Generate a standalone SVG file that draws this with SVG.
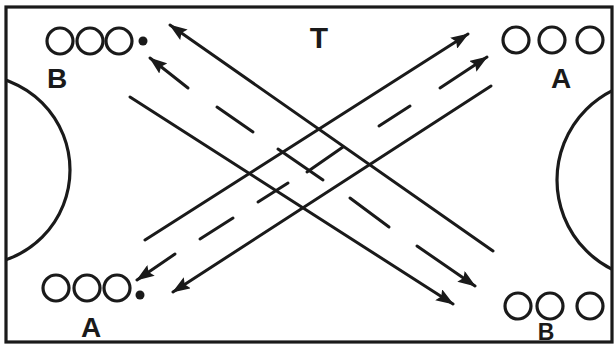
<svg xmlns="http://www.w3.org/2000/svg" width="614" height="347" viewBox="0 0 614 347">
<style>
.ln{stroke:#1a1a1a;stroke-width:3;fill:none;stroke-linecap:round}
.pl{stroke:#1a1a1a;stroke-width:3.2;fill:none}
.lbl{font-family:"Liberation Sans",Arial,sans-serif;font-weight:bold;fill:#1a1a1a;text-anchor:middle}
.dot{fill:#1a1a1a}
</style>
<defs>
<marker id="ah" viewBox="0 0 18 13" refX="17" refY="6.5" markerWidth="18" markerHeight="13" markerUnits="userSpaceOnUse" orient="auto-start-reverse">
<path d="M0,0 L18,6.5 L0,13 L3,6.5 z" fill="#1a1a1a"/>
</marker>
<clipPath id="field"><rect x="6" y="7" width="606" height="335"/></clipPath>
</defs>
<rect fill="#fff" x="0" y="0" width="614" height="347"/>
<g id="field-markings">
<rect class="pl" x="6" y="7" width="606" height="335"/>
<g clip-path="url(#field)">
<circle class="pl" cx="-25" cy="170" r="95"/>
<circle class="pl" cx="657" cy="180" r="100"/>
</g>
</g>
<g id="group-B-top">
<circle class="pl" cx="60" cy="41" r="13"/>
<circle class="pl" cx="90" cy="41" r="13"/>
<circle class="pl" cx="119" cy="41" r="13"/>
<circle class="dot" cx="143" cy="41" r="4.5"/>
<text class="lbl" x="57" y="88" font-size="28">B</text>
</g>
<g id="group-A-top">
<circle class="pl" cx="516" cy="40" r="13"/>
<circle class="pl" cx="552" cy="40" r="13"/>
<circle class="pl" cx="590" cy="40" r="13"/>
<text class="lbl" x="561" y="88" font-size="28">A</text>
</g>
<g id="group-A-bottom">
<circle class="pl" cx="56" cy="288" r="13"/>
<circle class="pl" cx="87" cy="288" r="13"/>
<circle class="pl" cx="117" cy="288" r="13"/>
<circle class="dot" cx="140" cy="295" r="4.5"/>
<text class="lbl" x="91" y="337" font-size="28">A</text>
</g>
<g id="group-B-bottom">
<circle class="pl" cx="518" cy="306" r="13"/>
<circle class="pl" cx="550" cy="306" r="13"/>
<circle class="pl" cx="590" cy="306" r="13"/>
<text class="lbl" x="546" y="340" font-size="23">B</text>
</g>
<g id="label-T">
<text class="lbl" x="319" y="48" font-size="30">T</text>
</g>
<g id="connectors">
<path class="ln" d="M170,25 L493,251" marker-start="url(#ah)"/>
<path class="ln" d="M150,58 L188,88" marker-start="url(#ah)"/>
<path class="ln" d="M217,107 L253,132"/>
<path class="ln" d="M278,149 L323,180"/>
<path class="ln" d="M350,198 L389,227"/>
<path class="ln" d="M417,246 L475,286" marker-end="url(#ah)"/>
<path class="ln" d="M130,97 L453,304" marker-end="url(#ah)"/>
<path class="ln" d="M145,240 L468,34" marker-end="url(#ah)"/>
<path class="ln" d="M137,280 L175,254" marker-start="url(#ah)"/>
<path class="ln" d="M200,239 L233,218"/>
<path class="ln" d="M258,202 L288,183"/>
<path class="ln" d="M307,172 L343,147"/>
<path class="ln" d="M379,126 L410,106"/>
<path class="ln" d="M440,88 L487,57" marker-end="url(#ah)"/>
<path class="ln" d="M173,292 L491,86" marker-start="url(#ah)"/>
</g>
</svg>
